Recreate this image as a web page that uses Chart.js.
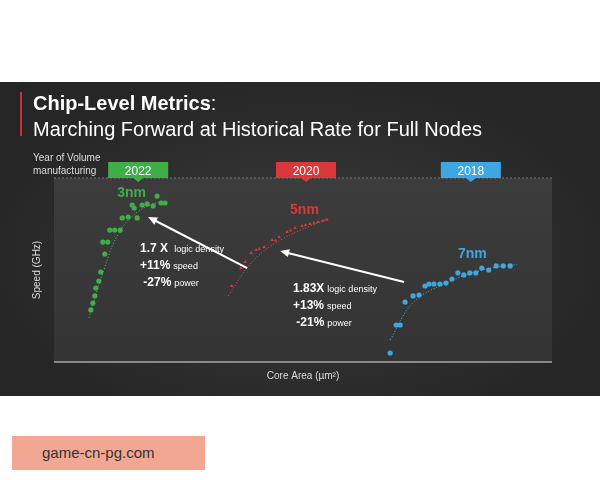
<!DOCTYPE html>
<html lang="en">
<head>
<meta charset="UTF-8">
<title>Chip-Level Metrics</title>
<script src="https://cdn.jsdelivr.net/npm/chart.js"></script>
<style>
  body { margin: 0; background: #fff; font-family: "Liberation Sans", Arial, sans-serif; }
  #slide { position: absolute; left: 0; top: 82px; width: 600px; height: 314px;
    background: radial-gradient(ellipse at 50% 55%, #3b3b3b 0%, #262626 75%); }
  #wm { position: absolute; left: 12px; top: 436px; width: 193px; height: 34px; background: #f1a792;
    color: #333; font-size: 15px; line-height: 34px; padding-left: 30px; box-sizing: border-box; }
</style>
</head>
<body>
<div id="slide"><canvas id="c" width="600" height="314"></canvas></div>
<div id="wm">game-cn-pg.com</div>
<script>
// points in plot units (0-100 on both axes)
const green3nm = [[7.4,28.3],[7.8,32],[8.2,35.9],[8.4,40.2],[9.0,44],[9.4,48.9],[10.2,58.7],[9.8,65.2],[10.8,65.2],[11.2,71.7],[12.2,71.7],[13.3,71.7],[13.7,78.3],[14.9,78.8],[16.7,78.3],[15.7,85.3],[16.1,83.7],[17.7,85.3],[18.7,85.9],[19.9,84.8],[20.7,90.2],[21.5,86.4],[22.3,86.4]];
const red5nm = [[35.7,41.3],[37.5,51],[38.4,54.3],[39.6,59.2],[40.6,60.9],[41.2,61.5],[42.2,62.5],[43.8,66.3],[44.5,66],[45.2,67.9],[46.8,70.7],[47.5,71.5],[48.4,72.8],[49.8,73.9],[50.5,74.5],[51.4,75],[52.2,75.5],[53,76.1],[54,76.8],[54.8,77.2]];
const blue7nm = [[67.5,4.9],[68.7,20.1],[69.5,20.1],[70.5,32.6],[72.1,35.9],[73.3,36.4],[74.5,41.3],[75.3,42.4],[76.3,42.4],[77.5,42.4],[78.7,42.9],[79.9,45.1],[81.1,48.4],[82.3,47.3],[83.5,48.4],[84.7,48.4],[85.9,51.1],[87.3,50],[88.8,52.2],[90.2,52.2],[91.6,52.2]];
const greenTrend = [[7,24],[10,50],[13,70],[17,82],[22,88]];
const redTrend = [[35,36],[40,55],[46,67],[55,78]];
const blueTrend = [[67.5,12],[72,32],[78,42],[86,50],[93,53]];
const years = ['2022', '2020', '2018'];
const yearX = [16.9, 50.6, 83.7];
const yearColors = ['#3fae49', '#d9383a', '#3ea6e0'];

function toPts(a) { return a.map(p => ({ x: p[0], y: p[1] })); }

const deco = {
  id: 'deco',
  beforeDatasetsDraw(chart) {
    const { ctx, chartArea: a } = chart;
    ctx.save();
    const g = ctx.createLinearGradient(0, a.top, 0, a.bottom);
    g.addColorStop(0, '#3c3c3c'); g.addColorStop(1, '#343434');
    ctx.fillStyle = g;
    ctx.fillRect(a.left, a.top, a.right - a.left, a.bottom - a.top);
    ctx.strokeStyle = '#777'; ctx.setLineDash([2, 2]); ctx.lineWidth = 1;
    ctx.beginPath(); ctx.moveTo(a.left, a.top); ctx.lineTo(a.right, a.top); ctx.stroke();
    ctx.setLineDash([]); ctx.strokeStyle = '#888'; ctx.lineWidth = 2;
    ctx.beginPath(); ctx.moveTo(a.left, a.bottom); ctx.lineTo(a.right, a.bottom); ctx.stroke();
    ctx.restore();
  },
  afterDraw(chart) {
    const { ctx, chartArea: a, scales: { x, y } } = chart;
    ctx.save();
    // title
    ctx.fillStyle = '#c8332f'; ctx.fillRect(20, 10, 2, 44);
    ctx.fillStyle = '#fff'; ctx.textBaseline = 'alphabetic';
    ctx.font = 'bold 20px "Liberation Sans", Arial, sans-serif';
    ctx.fillText('Chip-Level Metrics', 33, 28);
    const w = ctx.measureText('Chip-Level Metrics').width;
    ctx.font = '20px "Liberation Sans", Arial, sans-serif';
    ctx.fillText(':', 33 + w, 28);
    ctx.fillText('Marching Forward at Historical Rate for Full Nodes', 33, 54);
    ctx.font = '10px "Liberation Sans", Arial, sans-serif';
    ctx.fillStyle = '#ddd';
    ctx.fillText('Year of Volume', 33, 79);
    ctx.fillText('manufacturing', 33, 92);
    // year tabs
    years.forEach((t, i) => {
      const cx = x.getPixelForValue(yearX[i]);
      ctx.fillStyle = yearColors[i];
      ctx.beginPath();
      ctx.moveTo(cx - 30, a.top - 16); ctx.lineTo(cx + 30, a.top - 16);
      ctx.lineTo(cx + 30, a.top); ctx.lineTo(cx + 5, a.top);
      ctx.lineTo(cx, a.top + 4); ctx.lineTo(cx - 5, a.top);
      ctx.lineTo(cx - 30, a.top); ctx.closePath(); ctx.fill();
      ctx.fillStyle = '#fff'; ctx.textAlign = 'center';
      ctx.font = '12px "Liberation Sans", Arial, sans-serif';
      ctx.fillText(t, cx, a.top - 3);
    });
    // axis titles
    ctx.fillStyle = '#ddd'; ctx.textAlign = 'center';
    ctx.font = '10px "Liberation Sans", Arial, sans-serif';
    ctx.fillText('Core Area (\u00b5m\u00b2)', (a.left + a.right) / 2, a.bottom + 17);
    ctx.translate(40, (a.top + a.bottom) / 2);
    ctx.rotate(-Math.PI / 2);
    ctx.fillText('Speed (GHz)', 0, 0);
    ctx.setTransform(1, 0, 0, 1, 0, 0);
    // node labels
    ctx.font = 'bold 14px "Liberation Sans", Arial, sans-serif';
    ctx.textAlign = 'left';
    ctx.fillStyle = '#3fae49'; ctx.fillText('3nm', x.getPixelForValue(12.7), y.getPixelForValue(89.5));
    ctx.fillStyle = '#d9383a'; ctx.fillText('5nm', x.getPixelForValue(47.4), y.getPixelForValue(80.4));
    ctx.fillStyle = '#3ea6e0'; ctx.fillText('7nm', x.getPixelForValue(81.1), y.getPixelForValue(56.5));
    // arrows
    function arrow(x0, y0, x1, y1) {
      const p0 = [x.getPixelForValue(x0), y.getPixelForValue(y0)];
      const p1 = [x.getPixelForValue(x1), y.getPixelForValue(y1)];
      const ang = Math.atan2(p1[1] - p0[1], p1[0] - p0[0]);
      ctx.strokeStyle = '#fff'; ctx.fillStyle = '#fff'; ctx.lineWidth = 2;
      ctx.beginPath(); ctx.moveTo(p0[0], p0[1]);
      ctx.lineTo(p1[0] - 6 * Math.cos(ang), p1[1] - 6 * Math.sin(ang)); ctx.stroke();
      ctx.beginPath(); ctx.moveTo(p1[0], p1[1]);
      ctx.lineTo(p1[0] - 9 * Math.cos(ang) + 4 * Math.sin(ang), p1[1] - 9 * Math.sin(ang) - 4 * Math.cos(ang));
      ctx.lineTo(p1[0] - 9 * Math.cos(ang) - 4 * Math.sin(ang), p1[1] - 9 * Math.sin(ang) + 4 * Math.cos(ang));
      ctx.closePath(); ctx.fill();
    }
    arrow(38.8, 51, 18.9, 78.8);
    arrow(70.3, 43.5, 45.4, 60.3);
    // stat blocks
    function stats(px, py, rows) {
      ctx.fillStyle = '#fff';
      rows.forEach((r, i) => {
        ctx.font = 'bold 12px "Liberation Sans", Arial, sans-serif';
        ctx.fillText(r[0], px, py + i * 17);
        const bw = ctx.measureText(r[0]).width;
        ctx.font = '9px "Liberation Sans", Arial, sans-serif';
        ctx.fillText(r[1], px + bw + 3, py + i * 17);
      });
    }
    stats(140, 170, [['1.7 X ', 'logic density'], ['+11%', 'speed'], [' -27%', 'power']]);
    stats(293, 210, [['1.83X', 'logic density'], ['+13%', 'speed'], [' -21%', 'power']]);
    ctx.restore();
  }
};

const dotted = (data, color) => ({ type: 'line', data: toPts(data), borderColor: color, borderWidth: 1,
  borderDash: [1, 2], pointRadius: 0, tension: 0.4, fill: false });

new Chart(document.getElementById('c'), {
  type: 'scatter',
  data: {
    datasets: [
      dotted(greenTrend, '#5fbf66'), dotted(redTrend, '#e25555'), dotted(blueTrend, '#5ab3e6'),
      { data: toPts(green3nm), backgroundColor: '#3fae49', borderWidth: 0, pointRadius: 2.6 },
      { data: toPts(red5nm), backgroundColor: '#d9383a', borderWidth: 0, pointRadius: 2, pointStyle: 'triangle' },
      { data: toPts(blue7nm), backgroundColor: '#3ea6e0', borderWidth: 0, pointRadius: 2.6 }
    ]
  },
  options: {
    responsive: false, animation: false,
    layout: { padding: { left: 54, right: 48, top: 96, bottom: 34 } },
    scales: {
      x: { display: false, min: 0, max: 100 },
      y: { display: false, min: 0, max: 100 }
    },
    plugins: { legend: { display: false }, tooltip: { enabled: false } }
  },
  plugins: [deco]
});
</script>
</body>
</html>
